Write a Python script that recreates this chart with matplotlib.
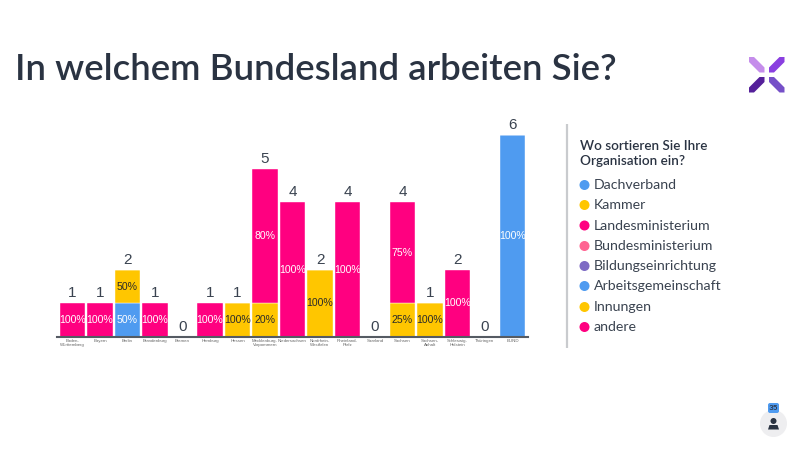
import numpy as np
import matplotlib
matplotlib.use('Agg')
import matplotlib.pyplot as plt
from matplotlib.patches import Polygon, Circle, FancyBboxPatch

# Daten
laender = ['Baden-\nWürttemberg', 'Bayern', 'Berlin', 'Brandenburg', 'Bremen', 'Hamburg', 'Hessen',
           'Mecklenburg-\nVorpommern', 'Niedersachsen', 'Nordrhein-\nWestfalen', 'Rheinland-\nPfalz',
           'Saarland', 'Sachsen', 'Sachsen-\nAnhalt', 'Schleswig-\nHolstein', 'Thüringen', 'BUND']
blau = [0, 0, 1, 0, 0, 0, 0, 0, 0, 0, 0, 0, 0, 0, 0, 0, 6]
gelb = [0, 0, 1, 0, 0, 0, 1, 1, 0, 2, 0, 0, 1, 1, 0, 0, 0]
pink = [1, 1, 0, 1, 0, 1, 0, 4, 4, 0, 4, 0, 3, 0, 2, 0, 0]

legende = ['Dachverband', 'Kammer', 'Landesministerium', 'Bundesministerium',
           'Bildungseinrichtung', 'Arbeitsgemeinschaft', 'Innungen', 'andere']
legende_farben = ['#4F9BF0', '#FFC600', '#FF0080', '#FF6492', '#7E6BC4', '#4F9BF0', '#FFC600', '#FF0080']
legende_y = [185, 205, 225.5, 246, 266, 286, 307, 327]

DUNKEL = '#2A3342'
plt.rcParams['font.family'] = ['Lato', 'DejaVu Sans']

fig = plt.figure(figsize=(8, 4.5), dpi=100)

# Ebene in Pixelkoordinaten fuer Titel, Legende, Logo
deko = fig.add_axes([0, 0, 1, 1])
deko.set_xlim(0, 800)
deko.set_ylim(450, 0)
deko.axis('off')

deko.text(15, 70, 'In welchem Bundesland arbeiten Sie?', fontsize=26.4, color=DUNKEL,
          family='Lato', fontweight='semibold', va='center', ha='left')

# Trennlinie und Legende
deko.plot([567, 567], [124, 348], color='#C9CBCE', lw=1.6, solid_capstyle='butt')
deko.text(580, 153.5, 'Wo sortieren Sie Ihre\nOrganisation ein?', fontsize=9.7, color=DUNKEL,
          family='Lato', fontweight='semibold', va='center', ha='left', linespacing=1.3)
for name, farbe, y in zip(legende, legende_farben, legende_y):
    deko.add_patch(Circle((584.5, y), 5, color=farbe, lw=0))
    deko.text(594, y, name, fontsize=10.2, color='#3A4350', va='center', ha='left')

# Logo: ein Arm, an der Mitte gespiegelt
arm = np.array([(749, 57), (754, 57), (764.5, 67.5), (764.5, 72.5), (759.5, 72.5), (749, 62)])
mitte = (766.75, 74.75)
for sx, sy, farbe in [(1, 1, '#C58DEB'), (-1, 1, '#8A3FE0'), (1, -1, '#55209A'), (-1, -1, '#7650C8')]:
    punkte = np.column_stack([mitte[0] + sx * (arm[:, 0] - mitte[0]), mitte[1] + sy * (arm[:, 1] - mitte[1])])
    deko.add_patch(Polygon(punkte, closed=True, color=farbe, lw=0))

# Teilnehmerzahl unten rechts
deko.add_patch(Circle((773.5, 423.5), 13.5, color='#EEEEF0', lw=0))
deko.add_patch(Circle((773.5, 421), 3, color=DUNKEL, lw=0))
deko.add_patch(Polygon([(768, 429.5), (769.5, 425), (777.5, 425), (779, 429.5)], closed=True, color=DUNKEL, lw=0))
deko.add_patch(FancyBboxPatch((769, 404), 9, 8, boxstyle='round,pad=1,rounding_size=2', color='#4F9BF0', lw=0))
deko.text(773.5, 408.2, '35', fontsize=5.5, color=DUNKEL, family='Inter', fontweight='medium', ha='center', va='center')

# Balken
ax = fig.add_axes([57 / 800, (450 - 337) / 450, 471 / 800, 202 / 450])
ax.patch.set_alpha(0)
x = np.arange(len(laender))
blau = np.array(blau)
gelb = np.array(gelb)
pink = np.array(pink)
gesamt = blau + gelb + pink
breite = 0.927

ax.bar(x, blau, breite, color=legende_farben[0], edgecolor='white', linewidth=0.3)
ax.bar(x, gelb, breite, bottom=blau, color=legende_farben[1], edgecolor='white', linewidth=0.3)
ax.bar(x, pink, breite, bottom=blau + gelb, color=legende_farben[2], edgecolor='white', linewidth=0.3)
ax.set_xlim(-0.564, 16.563)
ax.set_ylim(0, 6)

for i in x:
    ax.text(i, gesamt[i] + 0.09, str(gesamt[i]), ha='center', va='bottom', fontsize=11,
            color='#3A4350', family='Liberation Sans', clip_on=False)
    unten = 0
    for werte, textfarbe in [(blau, 'white'), (gelb, '#2A2A2A'), (pink, 'white')]:
        if werte[i] > 0:
            ax.text(i, unten + werte[i] / 2, '%d%%' % round(werte[i] / gesamt[i] * 100), ha='center',
                    va='center', fontsize=7.6, color=textfarbe, family='Liberation Sans')
        unten += werte[i]

for seite in ['top', 'left', 'right']:
    ax.spines[seite].set_visible(False)
ax.spines['bottom'].set_color('#555B63')
ax.spines['bottom'].set_linewidth(1.5)
ax.set_yticks([])
ax.set_xticks(x)
ax.set_xticklabels(laender, fontsize=3.2, color='#666666', family='Liberation Sans', linespacing=1.1)
ax.tick_params(axis='x', length=0, pad=1.5)

fig.savefig('out.png', dpi=100)
